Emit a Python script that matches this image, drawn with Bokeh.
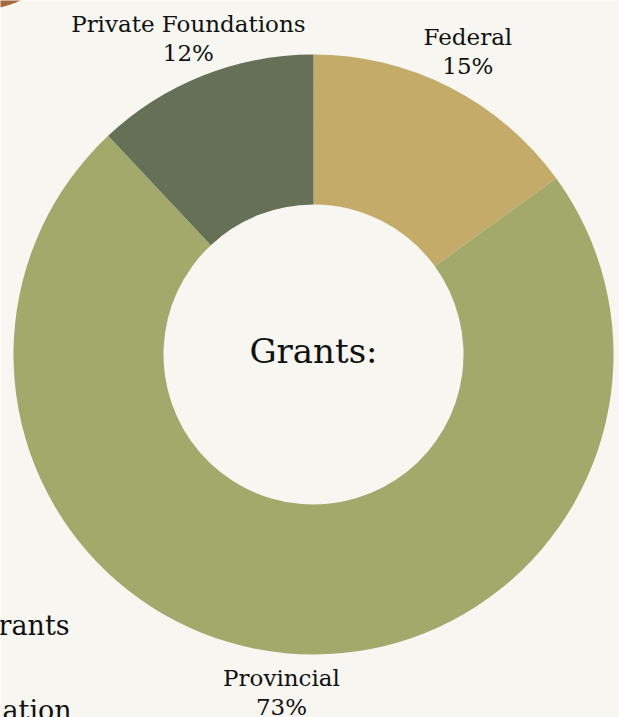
import math
from bokeh.plotting import figure
from bokeh.models import Range1d, ColumnDataSource
from bokeh.core.properties import value
from bokeh.embed import file_html
from bokeh.resources import INLINE

# ---- data ----
categories = ["Federal", "Provincial", "Private Foundations"]
shares = [15, 73, 12]
colors = ["#c4ab6a", "#a3a96b", "#667057"]
center_title = "Grants:"
side_texts = ["rants", "ation"]

W, H = 619, 717
BG = "#f7f6f0"
FONT = "DejaVu Serif"

def Y(ypx):
    return H - ypx

p = figure(width=W, height=H, output_backend="svg", toolbar_location=None,
           x_range=Range1d(0, W), y_range=Range1d(0, H),
           min_border=0, border_fill_color=BG, background_fill_color=BG)
p.axis.visible = False
p.grid.visible = False
p.outline_line_color = None

# brown fragment of a neighbouring chart (top-left corner)
p.circle(x=[-26], y=[Y(-100)], radius=110, fill_color="#a6693f", line_color=None)

cx, cy = 313, Y(354)
r_out, r_in = 300, 150

total = float(sum(shares))
starts, ends, mids = [], [], []
cum = 0.0
for v in shares:
    a0 = math.pi / 2 - cum / total * 2 * math.pi
    cum += v
    a1 = math.pi / 2 - cum / total * 2 * math.pi
    starts.append(a0)
    ends.append(a1)
    mids.append((a0 + a1) / 2)

src = ColumnDataSource(dict(start=starts, end=ends, color=colors))
p.annular_wedge(x=cx, y=cy, inner_radius=r_in, outer_radius=r_out,
                start_angle="start", end_angle="end", direction="clock",
                fill_color="color", line_color=None, source=src)

# labels
r_lab = 340
lx = [cx + r_lab * math.cos(m) for m in mids]
ly = [cy + r_lab * math.sin(m) for m in mids]
p.text(x=lx, y=[v + 14.5 for v in ly], text=categories,
       text_font=value(FONT), text_font_size="23px", text_color="#111111",
       text_align="center", text_baseline="middle")
p.text(x=lx, y=[v - 14.5 for v in ly], text=[f"{s}%" for s in shares],
       text_font=value(FONT), text_font_size="23px", text_color="#111111",
       text_align="center", text_baseline="middle")

p.text(x=[cx], y=[Y(350)], text=[center_title], text_font=value(FONT),
       text_font_size="34px", text_color="#111111",
       text_align="center", text_baseline="middle")

p.text(x=[-2, 2], y=[Y(625), Y(710)], text=side_texts, text_font=value(FONT),
       text_font_size="27px", text_color="#111111",
       text_align="left", text_baseline="alphabetic")

open("out.html", "w").write(file_html(p, INLINE))
